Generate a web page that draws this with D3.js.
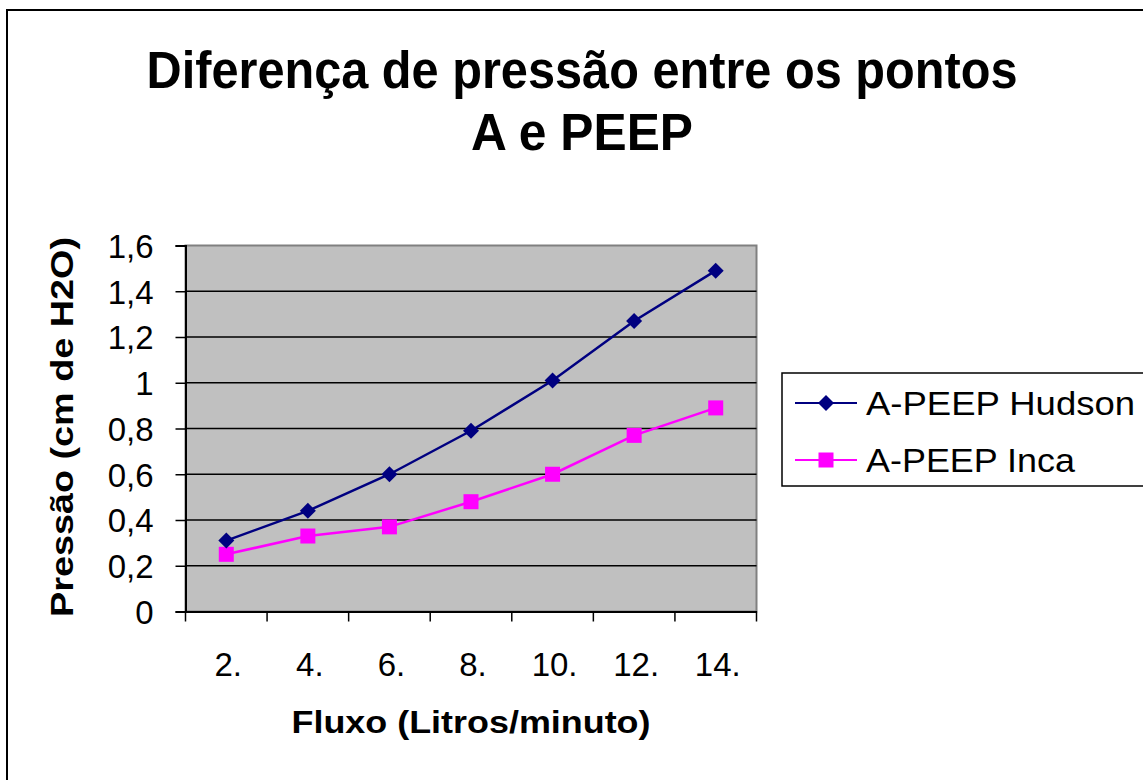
<!DOCTYPE html>
<html><head><meta charset="utf-8">
<script src="https://cdn.jsdelivr.net/npm/d3@7"></script>
<style>html,body{margin:0;padding:0;background:#fff;overflow:hidden}</style>
</head><body>
<script>
const categories = ["2.", "4.", "6.", "8.", "10.", "12.", "14."];
const hudson = [0.31, 0.44, 0.60, 0.79, 1.01, 1.27, 1.49];
const inca = [0.25, 0.33, 0.37, 0.48, 0.60, 0.77, 0.89];
const yTicks = [0, 0.2, 0.4, 0.6, 0.8, 1, 1.2, 1.4, 1.6];
const seriesNames = ["A-PEEP Hudson", "A-PEEP Inca"];
const titleLines = ["Diferença de pressão entre os pontos", "A e PEEP"];

const W = 1143, H = 780;
const svg = d3.select("body").append("svg").attr("width", W).attr("height", H);
const font = "'Liberation Sans', Arial, sans-serif";

// outer frame
svg.append("rect").attr("x", 7).attr("y", 10).attr("width", W).attr("height", H)
  .attr("fill", "#fff").attr("stroke", "#000").attr("stroke-width", 2);

const L = 185.5, R = 756.5, T = 245.5, B = 611.5;
const x = d3.scaleBand().domain(categories).range([L, R]).padding(0);
const y = d3.scaleLinear().domain([0, 1.6]).range([B, T]);

svg.append("rect").attr("x", L).attr("y", T).attr("width", R - L).attr("height", B - T)
  .attr("fill", "#c0c0c0").attr("stroke", "#808080").attr("stroke-width", 2);

// gridlines
svg.append("g").selectAll("line").data(yTicks.filter(d => d > 0 && d < 1.6)).join("line")
  .attr("x1", L).attr("x2", R).attr("y1", d => y(d)).attr("y2", d => y(d))
  .attr("stroke", "#000").attr("stroke-width", 1.5);

const fmt = d => String(d).replace(".", ",");

// y axis
const yAxis = svg.append("g").attr("transform", `translate(${L},0)`)
  .call(d3.axisLeft(y).tickValues(yTicks).tickFormat(fmt).tickSize(10).tickPadding(22));
yAxis.select(".domain").attr("stroke", "#000").attr("stroke-width", 2);
yAxis.selectAll(".tick line").attr("stroke", "#000").attr("stroke-width", 1.5);
yAxis.selectAll("text").attr("font-family", font).attr("font-size", 33).attr("fill", "#000").attr("dy", "0.36em");

// x axis
const xAxis = svg.append("g").attr("transform", `translate(0,${B})`)
  .call(d3.axisBottom(x).tickSize(0).tickPadding(0));
xAxis.select(".domain").attr("stroke", "#000").attr("stroke-width", 2);
xAxis.selectAll("text").attr("font-family", font).attr("font-size", 33).attr("fill", "#000")
  .attr("dy", null).attr("y", 64).attr("dx", 2);
const bounds = categories.map(c => x(c)).concat([R]);
svg.append("g").selectAll("line").data(bounds).join("line")
  .attr("x1", d => d).attr("x2", d => d).attr("y1", B).attr("y2", B + 10)
  .attr("stroke", "#000").attr("stroke-width", 1.5);

const cx = c => x(c) + x.bandwidth() / 2;
const line = d3.line().x((d, i) => cx(categories[i])).y(d => y(d));

// Inca
svg.append("path").datum(inca).attr("d", line).attr("fill", "none")
  .attr("stroke", "#ff00ff").attr("stroke-width", 2.5);
svg.append("g").selectAll("rect").data(inca).join("rect")
  .attr("x", (d, i) => cx(categories[i]) - 7.5).attr("y", d => y(d) - 7.5)
  .attr("width", 15).attr("height", 15).attr("fill", "#ff00ff");

// Hudson
svg.append("path").datum(hudson).attr("d", line).attr("fill", "none")
  .attr("stroke", "#000080").attr("stroke-width", 2.5);
const diamond = (s) => `M0,${-s}L${s},0L0,${s}L${-s},0Z`;
svg.append("g").selectAll("path").data(hudson).join("path")
  .attr("d", diamond(8))
  .attr("transform", (d, i) => `translate(${cx(categories[i])},${y(d)})`)
  .attr("fill", "#000080");

// title
const titleLens = [871, 222];
svg.append("g").selectAll("text").data(titleLines).join("text")
  .attr("x", 582).attr("y", (d, i) => 88 + i * 62)
  .attr("text-anchor", "middle").attr("font-family", font).attr("font-weight", "bold")
  .attr("font-size", 51).attr("fill", "#000")
  .attr("textLength", (d, i) => titleLens[i]).attr("lengthAdjust", "spacingAndGlyphs")
  .text(d => d);

// axis titles
svg.append("text").attr("x", 471).attr("y", 733).attr("text-anchor", "middle")
  .attr("font-family", font).attr("font-weight", "bold").attr("font-size", 31)
  .attr("textLength", 359).attr("lengthAdjust", "spacingAndGlyphs").text("Fluxo (Litros/minuto)");
svg.append("text").attr("transform", "translate(73,427) rotate(-90)").attr("text-anchor", "middle")
  .attr("font-family", font).attr("font-weight", "bold").attr("font-size", 32)
  .attr("textLength", 380).attr("lengthAdjust", "spacingAndGlyphs").text("Pressão (cm de H2O)");

// legend
svg.append("rect").attr("x", 782).attr("y", 373).attr("width", 400).attr("height", 113)
  .attr("fill", "#fff").attr("stroke", "#000").attr("stroke-width", 1.5);
const colors = ["#000080", "#ff00ff"];
const legLens = [269, 209];
seriesNames.forEach((n, i) => {
  const ly = i === 0 ? 403 : 460;
  svg.append("line").attr("x1", 795).attr("x2", 857).attr("y1", ly).attr("y2", ly)
    .attr("stroke", colors[i]).attr("stroke-width", 2);
  if (i === 0) svg.append("path").attr("d", diamond(8)).attr("transform", `translate(826,${ly})`).attr("fill", colors[i]);
  else svg.append("rect").attr("x", 826 - 7.5).attr("y", ly - 7.5).attr("width", 15).attr("height", 15).attr("fill", colors[i]);
  svg.append("text").attr("x", 866).attr("y", ly + 12).attr("font-family", font).attr("font-size", 34)
    .attr("textLength", legLens[i]).attr("lengthAdjust", "spacingAndGlyphs").text(n);
});
</script>
</body></html>
